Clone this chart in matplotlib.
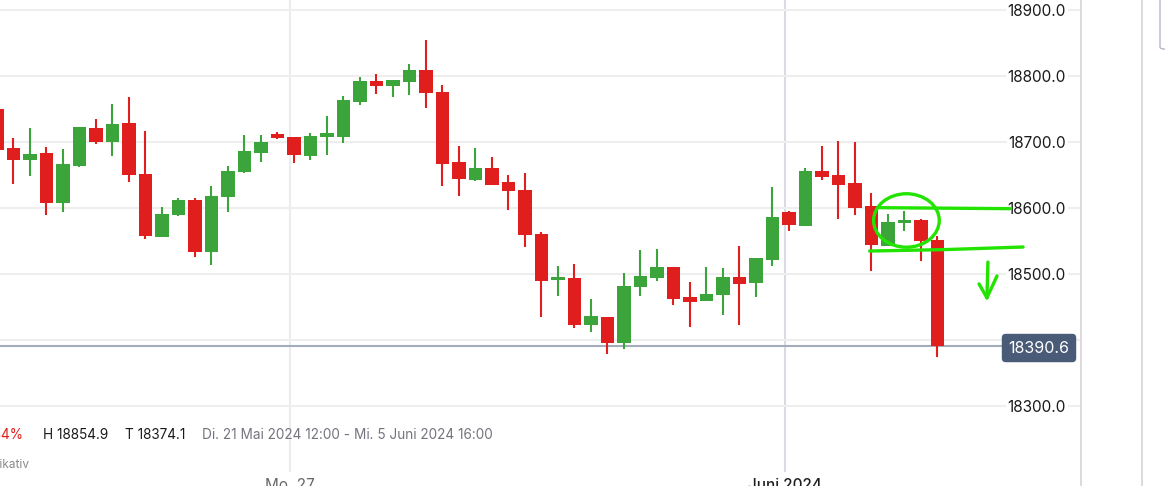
import matplotlib
matplotlib.use("Agg")
import matplotlib.pyplot as plt
from matplotlib.patches import Ellipse, FancyBboxPatch
from matplotlib.lines import Line2D
import matplotlib.transforms as mtransforms
import numpy as np

# ---------------- data ----------------
opens = [18750.0, 18690.9, 18672.7, 18683.3, 18607.6, 18663.6, 18721.2, 18700.0, 18728.8, 18651.5,
         18556.1, 18589.4, 18612.1, 18533.3, 18616.7, 18654.5, 18683.3, 18712.1, 18707.6, 18678.8,
         18707.6, 18707.6, 18760.6, 18792.4, 18784.8, 18790.9, 18809.1, 18775.8, 18669.7, 18642.4,
         18660.6, 18639.4, 18627.3, 18560.6, 18490.9, 18493.9, 18422.7, 18434.8, 18395.5, 18480.3,
         18493.9, 18510.6, 18465.2, 18459.1, 18468.2, 18495.5, 18486.4, 18521.2, 18593.9, 18572.7,
         18656.1, 18650.0, 18637.9, 18603.0, 18542.4, 18577.3, 18581.8, 18551.5]
highs = [18750.0, 18706.1, 18721.2, 18692.4, 18689.4, 18722.7, 18734.8, 18757.6, 18768.2, 18716.7,
         18601.5, 18615.2, 18615.2, 18633.3, 18663.6, 18710.6, 18710.6, 18715.2, 18707.6, 18713.6,
         18739.4, 18769.7, 18798.5, 18803.0, 18793.9, 18818.2, 18854.9, 18786.4, 18693.9, 18690.9,
         18677.3, 18650.0, 18653.0, 18563.6, 18512.1, 18515.2, 18462.1, 18434.8, 18501.5, 18536.4,
         18537.9, 18510.6, 18487.9, 18510.6, 18509.1, 18542.4, 18524.2, 18631.8, 18595.5, 18660.6,
         18693.9, 18701.5, 18700.0, 18622.7, 18590.9, 18595.5, 18583.3, 18557.6]
lows = [18687.9, 18636.4, 18648.5, 18589.4, 18593.9, 18662.1, 18697.0, 18678.8, 18639.4, 18553.0,
        18556.1, 18587.9, 18525.8, 18513.6, 18593.9, 18653.0, 18669.7, 18704.5, 18668.2, 18672.7,
        18680.3, 18698.5, 18756.1, 18772.7, 18768.2, 18771.2, 18751.5, 18633.3, 18618.2, 18640.9,
        18634.8, 18597.0, 18540.9, 18434.8, 18466.7, 18418.2, 18412.1, 18378.8, 18386.4, 18466.7,
        18489.4, 18453.0, 18419.7, 18459.1, 18437.9, 18422.7, 18465.2, 18512.1, 18565.2, 18572.7,
        18642.4, 18583.3, 18589.4, 18504.5, 18542.4, 18565.2, 18519.7, 18374.1]
closes = [18687.9, 18672.7, 18681.8, 18607.6, 18666.7, 18722.7, 18700.0, 18727.3, 18650.0, 18557.6,
          18590.9, 18612.1, 18533.3, 18618.2, 18656.1, 18686.4, 18700.0, 18706.1, 18680.3, 18709.1,
          18713.6, 18763.6, 18792.4, 18784.8, 18793.9, 18809.1, 18774.2, 18666.7, 18643.9, 18660.6,
          18634.8, 18625.8, 18559.1, 18489.4, 18495.5, 18422.7, 18436.4, 18395.5, 18481.8, 18497.0,
          18510.6, 18462.1, 18457.6, 18469.7, 18495.5, 18484.8, 18524.2, 18586.4, 18574.2, 18656.1,
          18647.0, 18634.8, 18600.0, 18543.9, 18578.8, 18581.8, 18550.0, 18390.6]

y_ticks = [18300, 18400, 18500, 18600, 18700, 18800, 18900]
y_tick_labels = ["18300.0", None, "18500.0", "18600.0", "18700.0", "18800.0", "18900.0"]
x_tick_pos = [17.75, 47.75]
x_tick_labels = ["Mo. 27", "Juni 2024"]
change_text = "-0.34%"
range_text = "Di. 21 Mai 2024 12:00 - Mi. 5 Juni 2024 16:00"
note_text = "Indikativ"

# hand-drawn annotation (data coordinates)
ann_upper_x = [53.5, 61.4]
ann_upper_y = [18600.5, 18599.0]
ann_lower_x = [52.9, 57.5, 62.2]
ann_lower_y = [18534.8, 18537.0, 18540.9]
ann_circle = (55.13, 18581.1, 3.98, 81.0)
ann_arrow_shaft = ([60.07, 60.01], [18518.0, 18464.0])
ann_arrow_left = ([59.53, 60.01], [18485.0, 18464.0])
ann_arrow_right = ([60.01, 60.62], [18464.0, 18497.0])

# ---------------- style ----------------
RED = "#e01e1e"
GREEN = "#3ba53b"
HAND = "#22e400"
FONT = ["Inter", "DejaVu Sans"]
plt.rcParams["font.family"] = FONT

W, H = 1165, 486
fig = plt.figure(figsize=(W / 100, H / 100), dpi=100)
fig.patch.set_facecolor("white")


def fx(px):
    return px / W


def fy(py):
    return 1 - py / H


ax = fig.add_axes([0, fy(472), fx(1080), 472 / H])
ax.set_facecolor("white")
ax.set_xlim(0.194, 65.65)
ax.set_ylim(18200, 18915.15)
for s in ax.spines.values():
    s.set_visible(False)

# grid
ax.set_yticks(y_ticks)
ax.tick_params(axis="y", length=0, labelleft=False, labelright=False)
ax.grid(axis="y", color="#eeeeee", lw=1.5, zorder=0)
ax.set_axisbelow(True)

# vertical date lines
ax.axvline(x_tick_pos[0], color="#ececec", lw=1.5, zorder=0.5)
ax.axvline(x_tick_pos[1], color="#dadae2", lw=1.5, zorder=0.5)

ax.set_xticks(x_tick_pos)
ax.set_xticklabels(x_tick_labels, fontsize=11)
ax.tick_params(axis="x", length=0, pad=4.5)
xl = ax.get_xticklabels()
xl[0].set_color("#666666")
xl[1].set_color("#1e1e1e")
xl[1].set_fontweight("medium")

# candles
x = np.arange(len(opens))
o = np.array(opens)
c = np.array(closes)
hi = np.array(highs)
lo = np.array(lows)
up = c >= o
cols = np.where(up, GREEN, RED)
ax.vlines(x, lo, hi, colors=cols, lw=1.5, zorder=2)
bottom = np.minimum(o, c)
height = np.maximum(np.abs(c - o), 4.5)
ax.bar(x, height, bottom=bottom, width=0.82, color=cols, linewidth=0, zorder=3)

# current price line
last = closes[-1]
ax.axhline(last, xmax=1002 / 1080, color="#a3adbb", lw=1.5, zorder=1.5)

# y tick labels (inside, right)
trans = mtransforms.blended_transform_factory(ax.transAxes, ax.transData)
trans_lab = mtransforms.offset_copy(trans, fig=fig, x=0, y=-1.8, units="dots")
for v, lab in zip(y_ticks, y_tick_labels):
    if lab is None:
        continue
    ax.text(1066 / 1080, v, lab, transform=trans_lab, ha="right", va="center",
            fontsize=11, color="#1a1a1a", zorder=6,
            bbox=dict(boxstyle="square,pad=0.1", fc="white", ec="none"))

# price label
ax.text(1039 / 1080, last, f"{last:.1f}", transform=trans_lab, ha="center", va="center",
        fontsize=11.5, color="white", zorder=7,
        bbox=dict(boxstyle="round,pad=0.42,rounding_size=0.25", fc="#4a5b78", ec="none"))

# hand-drawn annotations
hk = dict(color=HAND, lw=2.4, solid_capstyle="round", zorder=8, clip_on=False)
ax.plot(ann_upper_x, ann_upper_y, **hk)
ax.plot(ann_lower_x, ann_lower_y, **hk)
cx, cy, cw, ch = ann_circle
ax.add_patch(Ellipse((cx, cy), cw, ch, angle=0, fill=False, ec=HAND, lw=2.4, zorder=8))
ax.plot(*ann_arrow_shaft, **hk)
ax.plot(*ann_arrow_left, **hk)
ax.plot(*ann_arrow_right, **hk)

# right panel lines
fig.add_artist(Line2D([fx(1080.5)] * 2, [0, 1], color="#d4d4d8", lw=1.2))
fig.add_artist(Line2D([fx(1141.5)] * 2, [0, 1], color="#d4d4d8", lw=1.2))
fig.add_artist(FancyBboxPatch((fx(1160), fy(49)), fx(30), 60 / H,
                              boxstyle="round,pad=0,rounding_size=0.004",
                              fc="white", ec="#b8b5c8", lw=1.0, transform=fig.transFigure))

# legend texts
ty = fy(435)
fs = 9.8
fig.text(fx(23), ty, change_text, color="#e0201c", fontsize=fs, ha="right", va="center")
fig.text(fx(43), ty, f"H {max(highs):.1f}", color="#1a1a1a", fontsize=fs, ha="left", va="center")
fig.text(fx(125), ty, f"T {min(lows):.1f}", color="#1a1a1a", fontsize=fs, ha="left", va="center")
fig.text(fx(202), ty, range_text, color="#74747e", fontsize=fs, ha="left", va="center")
fig.text(fx(29), fy(465), note_text, color="#8a8a8a", fontsize=8.5, ha="right", va="center")

fig.savefig("out.png", dpi=100, facecolor="white")
